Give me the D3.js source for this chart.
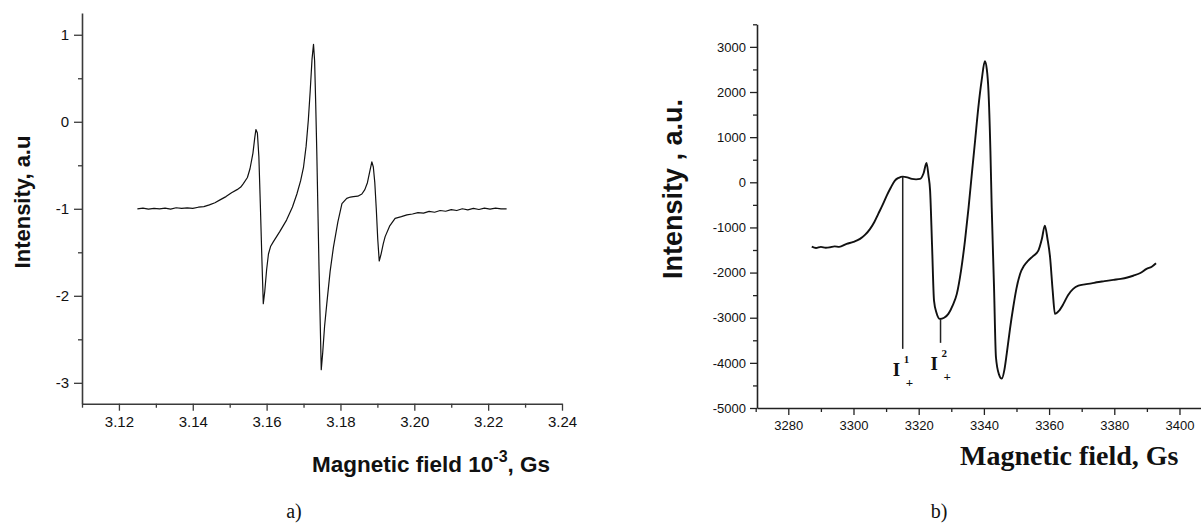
<!DOCTYPE html>
<html>
<head>
<meta charset="utf-8">
<script src="https://cdn.jsdelivr.net/npm/d3@7/dist/d3.min.js"></script>
<style>
  html, body { margin: 0; padding: 0; background: #fff; }
  svg { display: block; }
</style>
</head>
<body>
<svg id="chart" width="1201" height="523"></svg>
<script>
// ---------- Panel a) data ----------
const aField = [3.125,3.1265,3.128,3.1295,3.131,3.1325,3.134,3.1355,3.137,3.1385,3.140,3.1415,3.143,3.1445,3.146,3.1475,3.149,3.1505,3.152,3.1530,3.1537,3.1548,3.1555,3.1563,3.1568,3.1571,3.1575,3.1579,3.1583,3.1587,3.1591,3.1595,3.1600,3.1605,3.1611,3.1618,3.1636,3.1654,3.1670,3.1682,3.1692,3.1700,3.1707,3.1713,3.1718,3.1723,3.1727,3.1730,3.1733,3.1736,3.1742,3.1748,3.1752,3.1757,3.1763,3.1772,3.1781,3.1793,3.1804,3.1817,3.1827,3.1835,3.1847,3.1858,3.1866,3.1873,3.1879,3.1885,3.1889,3.1893,3.1897,3.1901,3.1905,3.1910,3.1916,3.1921,3.1933,3.1948,3.1965,3.198,3.1995,3.201,3.2025,3.204,3.2055,3.207,3.2085,3.210,3.2115,3.213,3.2145,3.216,3.2175,3.219,3.2205,3.222,3.2235,3.225];
const aIntensity = [-1.00,-0.993,-1.004,-0.996,-1.00,-0.992,-1.004,-0.988,-0.996,-0.99,-0.995,-0.982,-0.975,-0.955,-0.93,-0.895,-0.86,-0.815,-0.78,-0.75,-0.71,-0.64,-0.54,-0.36,-0.18,-0.09,-0.13,-0.40,-0.95,-1.55,-2.09,-1.95,-1.70,-1.52,-1.43,-1.38,-1.26,-1.13,-0.98,-0.83,-0.68,-0.52,-0.28,0.02,0.35,0.72,0.89,0.70,0.20,-0.37,-1.70,-2.85,-2.65,-2.35,-2.09,-1.72,-1.44,-1.15,-0.94,-0.88,-0.865,-0.86,-0.855,-0.83,-0.78,-0.70,-0.58,-0.46,-0.52,-0.70,-1.00,-1.35,-1.60,-1.52,-1.40,-1.32,-1.20,-1.11,-1.09,-1.07,-1.06,-1.045,-1.05,-1.03,-1.04,-1.02,-1.028,-1.01,-1.02,-1.00,-1.012,-0.996,-1.008,-0.992,-1.004,-0.993,-1.00,-1.00];
const aXMajor = [3.12,3.14,3.16,3.18,3.20,3.22,3.24];
const aXMinor = [3.11,3.13,3.15,3.17,3.19,3.21,3.23];
const aYMajor = [-3,-2,-1,0,1];
const aYMinor = [-2.5,-1.5,-0.5,0.5];
const aXDomain = [3.11,3.24];
const aYDomain = [-3.24,1.25];

// ---------- Panel b) data ----------
const bField = [3287.2,3288.5,3290,3291.5,3292.8,3294.2,3295.6,3297.9,3300,3302,3303.6,3305.1,3306.4,3307.6,3309,3310.2,3311.5,3312.7,3313.9,3315.1,3316.5,3317.9,3319.2,3320.4,3321.5,3322.4,3323.0,3323.5,3324.1,3324.7,3325.5,3326.5,3327.8,3329.1,3330.4,3331.7,3333,3334.2,3335.3,3336.3,3337.3,3338.3,3339.3,3340.3,3340.9,3341.4,3342.0,3342.4,3343.1,3343.7,3344.6,3345.5,3346.3,3347,3348,3349,3350,3351.1,3352.3,3353.6,3355,3356.7,3357.8,3358.7,3359.5,3360.3,3361.1,3361.8,3363,3364.4,3365.8,3367.4,3369,3371,3373,3374.6,3377,3379.7,3382,3384,3385.8,3388,3389.9,3391.5,3392.8];
const bIntensity = [-1424,-1455,-1430,-1450,-1440,-1420,-1430,-1365,-1320,-1254,-1160,-1032,-880,-700,-490,-295,-110,38,100,126,110,75,65,75,200,430,150,-184,-1400,-2620,-2900,-3026,-3000,-2915,-2730,-2472,-1950,-1291,-560,186,920,1661,2250,2680,2500,2031,700,-554,-2300,-3876,-4250,-4350,-4150,-3802,-3250,-2768,-2350,-2030,-1850,-1734,-1640,-1513,-1250,-959,-1250,-1661,-2400,-2915,-2850,-2693,-2500,-2361,-2290,-2260,-2240,-2215,-2190,-2162,-2140,-2110,-2070,-2010,-1918,-1870,-1794];
const bXMajor = [3280,3300,3320,3340,3360,3380,3400];
const bXMinor = [3270,3290,3310,3330,3350,3370,3390];
const bYMajor = [-5000,-4000,-3000,-2000,-1000,0,1000,2000,3000];
const bYMinor = [-4500,-3500,-2500,-1500,-500,500,1500,2500,3500];
const bXDomain = [3270.4,3406.6];
const bYDomain = [-5000,3500];
// annotation markers: field, top intensity, bottom intensity, index
const bMarkField = [3315.1,3326.7];
const bMarkTop = [126,-3026];
const bMarkBottom = [-3690,-3557];
const bMarkIndex = ["1","2"];

const svg = d3.select("#chart");
const sans = "Liberation Sans, Arial, sans-serif";
const serif = "Liberation Serif, Times New Roman, serif";

function styleAxis(g, col, fontFam, fontSize) {
  g.select(".domain").attr("stroke", col).attr("stroke-width", 1.6);
  g.selectAll(".tick line").attr("stroke", col).attr("stroke-width", 1.3);
  g.selectAll(".tick text").attr("fill", "#111").attr("font-family", fontFam).attr("font-size", fontSize);
}
function minorStyle(g, col) {
  g.select(".domain").remove();
  g.selectAll(".tick line").attr("stroke", col).attr("stroke-width", 1.3);
}

// ================= Panel a =================
const ax = d3.scaleLinear().domain(aXDomain).range([82, 562]);
const ay = d3.scaleLinear().domain(aYDomain).range([403.7, 13]);
const ga = svg.append("g");
const axisColA = "#3a3a3a";

ga.append("g").attr("transform", "translate(0,403.7)")
  .call(d3.axisBottom(ax).tickValues(aXMinor).tickSize(4).tickFormat(""))
  .call(g => minorStyle(g, axisColA));
ga.append("g").attr("transform", "translate(0,403.7)")
  .call(d3.axisBottom(ax).tickValues(aXMajor).tickSize(7).tickSizeOuter(0).tickPadding(6).tickFormat(d => d.toFixed(2)))
  .call(g => styleAxis(g, axisColA, sans, "15px"));
ga.append("g").attr("transform", "translate(82,0)")
  .call(d3.axisLeft(ay).tickValues(aYMinor).tickSize(4).tickFormat(""))
  .call(g => minorStyle(g, axisColA));
ga.append("g").attr("transform", "translate(82,0)")
  .call(d3.axisLeft(ay).tickValues(aYMajor).tickSize(8).tickSizeOuter(0).tickPadding(5).tickFormat(d => String(d)))
  .call(g => styleAxis(g, axisColA, sans, "15px"));

const aData = aField.map((f, i) => [f, aIntensity[i]]);
ga.append("path").datum(aData)
  .attr("fill", "none").attr("stroke", "#111").attr("stroke-width", 1.2)
  .attr("stroke-linejoin", "round")
  .attr("d", d3.line().x(d => ax(d[0])).y(d => ay(d[1])).curve(d3.curveLinear));

ga.append("text")
  .attr("transform", "translate(30,202) rotate(-90)")
  .attr("text-anchor", "middle")
  .attr("font-family", sans).attr("font-weight", "bold").attr("font-size", "22px")
  .attr("fill", "#111")
  .text("Intensity, a.u");
const axl = ga.append("text")
  .attr("x", 312).attr("y", 472)
  .attr("font-family", sans).attr("font-weight", "bold").attr("font-size", "22.5px")
  .attr("fill", "#111");
axl.append("tspan").text("Magnetic field 10");
axl.append("tspan").attr("font-size", "16px").attr("dy", "-10").text("-3");
axl.append("tspan").attr("dy", "10").text(", Gs");
ga.append("text").attr("x", 294).attr("y", 518).attr("text-anchor", "middle")
  .attr("font-family", serif).attr("font-size", "20px").attr("fill", "#111")
  .text("a)");

// ================= Panel b =================
const bx = d3.scaleLinear().domain(bXDomain).range([757, 1201]);
const by = d3.scaleLinear().domain(bYDomain).range([408, 24.3]);
const gb = svg.append("g");
const axisColB = "#222";

gb.append("g").attr("transform", "translate(0,408)")
  .call(d3.axisBottom(bx).tickValues(bXMinor).tickSize(4).tickFormat(""))
  .call(g => minorStyle(g, axisColB));
gb.append("g").attr("transform", "translate(0,408)")
  .call(d3.axisBottom(bx).tickValues(bXMajor).tickSize(7).tickSizeOuter(0).tickPadding(6).tickFormat(d => String(d)))
  .call(g => styleAxis(g, axisColB, sans, "13px"));
gb.append("g").attr("transform", "translate(757,0)")
  .call(d3.axisLeft(by).tickValues(bYMinor).tickSize(4).tickFormat(""))
  .call(g => minorStyle(g, axisColB));
gb.append("g").attr("transform", "translate(757,0)")
  .call(d3.axisLeft(by).tickValues(bYMajor).tickSize(7).tickSizeOuter(0).tickPadding(4).tickFormat(d => String(d)))
  .call(g => styleAxis(g, axisColB, sans, "13px"));

const bData = bField.map((f, i) => [f, bIntensity[i]]);
gb.append("path").datum(bData)
  .attr("fill", "none").attr("stroke", "#111").attr("stroke-width", 1.9)
  .attr("d", d3.line().x(d => bx(d[0])).y(d => by(d[1])).curve(d3.curveMonotoneX));

bMarkField.forEach((f, i) => {
  gb.append("line")
    .attr("x1", bx(f)).attr("x2", bx(f))
    .attr("y1", by(bMarkTop[i])).attr("y2", by(bMarkBottom[i]))
    .attr("stroke", "#222").attr("stroke-width", 1.5);
  const xl = bx(f) - 10;
  const yl = by(bMarkBottom[i]) + 27;
  const t = gb.append("g").attr("font-family", serif).attr("font-weight", "bold").attr("fill", "#111");
  t.append("text").attr("x", xl).attr("y", yl).attr("font-size", "19px").text("I");
  t.append("text").attr("x", xl + 11).attr("y", yl - 13).attr("font-size", "11px").text(bMarkIndex[i]);
  t.append("text").attr("x", xl + 13).attr("y", yl + 11).attr("font-size", "13px").text("+");
});

gb.append("text")
  .attr("transform", "translate(682,189) rotate(-90)")
  .attr("text-anchor", "middle")
  .attr("font-family", sans).attr("font-weight", "bold").attr("font-size", "27px")
  .attr("fill", "#111")
  .text("Intensity , a.u.");
gb.append("text")
  .attr("x", 960).attr("y", 465)
  .attr("font-family", serif).attr("font-weight", "bold").attr("font-size", "28px")
  .attr("fill", "#111")
  .text("Magnetic field, Gs");
gb.append("text").attr("x", 939).attr("y", 518).attr("text-anchor", "middle")
  .attr("font-family", serif).attr("font-size", "20px").attr("fill", "#111")
  .text("b)");
</script>
</body>
</html>
